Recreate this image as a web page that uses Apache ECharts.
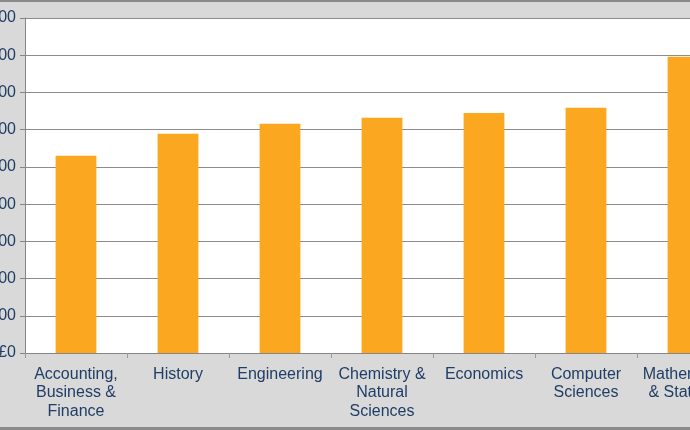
<!DOCTYPE html>
<html>
<head>
<meta charset="utf-8">
<script src="https://cdn.jsdelivr.net/npm/echarts@6/dist/echarts.min.js"></script>
<style>
html,body{margin:0;padding:0;background:#d9d9d9;}
#c{width:690px;height:430px;}
</style>
</head>
<body>
<div id="c"></div>
<script>
var categories = ["Accounting,\nBusiness &\nFinance", "History", "Engineering", "Chemistry &\nNatural\nSciences", "Economics", "Computer\nSciences", "Mathematics\n& Statistics"];
var values = [26500, 29450, 30800, 31600, 32250, 32950, 39800];
var yMin = 0, yMax = 45000, yStep = 5000;

var chart = echarts.init(document.getElementById('c'), null, {renderer: 'canvas'});
var textColor = '#1f3d66';
chart.setOption({
  backgroundColor: '#d9d9d9',
  animation: false,
  graphic: [
    {type: 'rect', shape: {x: 0, y: 0, width: 690, height: 2}, style: {fill: '#8a8a8a'}},
    {type: 'rect', shape: {x: 0, y: 427, width: 690, height: 3}, style: {fill: '#8a8a8a'}}
  ],
  grid: {left: 25, right: -49, top: 18, bottom: 77, show: true, backgroundColor: '#ffffff', borderWidth: 0,
         containLabel: false, outerBoundsMode: 'none'},
  xAxis: {
    type: 'category',
    data: categories,
    boundaryGap: true,
    axisLine: {lineStyle: {color: '#868686', width: 1}},
    axisTick: {show: true, length: 5, lineStyle: {color: '#9a9a9a'}},
    axisLabel: {color: textColor, fontFamily: 'Liberation Sans, Arial', fontSize: 16, lineHeight: 18.5, margin: 12, interval: 0, hideOverlap: false}
  },
  yAxis: {
    type: 'value',
    min: yMin, max: yMax, interval: yStep,
    axisLine: {show: true, lineStyle: {color: '#868686', width: 1}},
    axisTick: {show: true, length: 5, lineStyle: {color: '#868686'}},
    splitLine: {lineStyle: {color: '#8c8c8c', width: 1}},
    axisLabel: {
      color: textColor, fontFamily: 'Liberation Sans, Arial', fontSize: 16, margin: 9,
      formatter: function (v) { return '£' + v.toLocaleString('en-GB'); }
    }
  },
  series: [{
    type: 'bar',
    data: values,
    barWidth: '40%',
    itemStyle: {color: '#FBA71F'}
  }]
});
</script>
</body>
</html>
